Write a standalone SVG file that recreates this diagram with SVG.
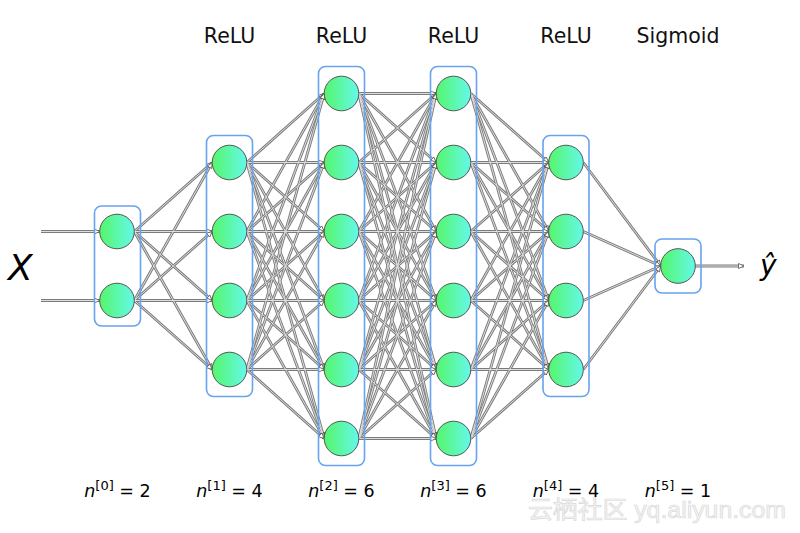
<svg xmlns="http://www.w3.org/2000/svg" xmlns:xlink="http://www.w3.org/1999/xlink" width="800" height="533" viewBox="0 0 800 533">
<style>
.outer{stroke:#7c7c7c;stroke-width:2.8;fill:none}
.inner{stroke:#dedede;stroke-width:1;fill:none}
.heads{stroke:none;fill:none;marker-end:url(#arr)}
.node{fill:url(#ng);stroke:#555;stroke-width:1}
.box{fill:none;stroke:#67a3ee;stroke-width:1.6}
.lbl{font-family:"DejaVu Sans","Noto Sans",sans-serif;fill:#000}
.top{font-size:20.5px;text-anchor:middle;fill:#111}
.bot{font-size:17.5px;text-anchor:middle}
.wm{font-family:"Liberation Sans","Noto Sans CJK SC",sans-serif;font-size:24px;fill:#f6f6f6;stroke:#d9d9d9;stroke-width:0.7}
</style>
<defs>
<linearGradient id="ng" x1="0" y1="0" x2="1" y2="0">
<stop offset="0" stop-color="#55f66a"/>
<stop offset="1" stop-color="#64f8ea"/>
</linearGradient>
<marker id="arr" markerUnits="userSpaceOnUse" markerWidth="8" markerHeight="8" refX="6" refY="3" orient="auto">
<path d="M0.5,0.5 L6,3 L0.5,5.5 z" fill="#fff" stroke="#555" stroke-width="0.8"/>
</marker>
</defs>
<rect width="800" height="533" fill="#fff"/>
<g class="outer">
<g id="connectors">
<line x1="41" y1="231.5" x2="99.7" y2="231.5"/>
<line x1="41" y1="300.5" x2="99.7" y2="300.5"/>
<line x1="134.3" y1="231.5" x2="212.2" y2="162.5"/>
<line x1="134.3" y1="231.5" x2="212.2" y2="231.5"/>
<line x1="134.3" y1="231.5" x2="212.2" y2="300.5"/>
<line x1="134.3" y1="231.5" x2="212.2" y2="369.5"/>
<line x1="134.3" y1="300.5" x2="212.2" y2="162.5"/>
<line x1="134.3" y1="300.5" x2="212.2" y2="231.5"/>
<line x1="134.3" y1="300.5" x2="212.2" y2="300.5"/>
<line x1="134.3" y1="300.5" x2="212.2" y2="369.5"/>
<line x1="246.8" y1="162.5" x2="324.2" y2="93.5"/>
<line x1="246.8" y1="162.5" x2="324.2" y2="162.5"/>
<line x1="246.8" y1="162.5" x2="324.2" y2="231.5"/>
<line x1="246.8" y1="162.5" x2="324.2" y2="300.5"/>
<line x1="246.8" y1="162.5" x2="324.2" y2="369.5"/>
<line x1="246.8" y1="162.5" x2="324.2" y2="438.5"/>
<line x1="246.8" y1="231.5" x2="324.2" y2="93.5"/>
<line x1="246.8" y1="231.5" x2="324.2" y2="162.5"/>
<line x1="246.8" y1="231.5" x2="324.2" y2="231.5"/>
<line x1="246.8" y1="231.5" x2="324.2" y2="300.5"/>
<line x1="246.8" y1="231.5" x2="324.2" y2="369.5"/>
<line x1="246.8" y1="231.5" x2="324.2" y2="438.5"/>
<line x1="246.8" y1="300.5" x2="324.2" y2="93.5"/>
<line x1="246.8" y1="300.5" x2="324.2" y2="162.5"/>
<line x1="246.8" y1="300.5" x2="324.2" y2="231.5"/>
<line x1="246.8" y1="300.5" x2="324.2" y2="300.5"/>
<line x1="246.8" y1="300.5" x2="324.2" y2="369.5"/>
<line x1="246.8" y1="300.5" x2="324.2" y2="438.5"/>
<line x1="246.8" y1="369.5" x2="324.2" y2="93.5"/>
<line x1="246.8" y1="369.5" x2="324.2" y2="162.5"/>
<line x1="246.8" y1="369.5" x2="324.2" y2="231.5"/>
<line x1="246.8" y1="369.5" x2="324.2" y2="300.5"/>
<line x1="246.8" y1="369.5" x2="324.2" y2="369.5"/>
<line x1="246.8" y1="369.5" x2="324.2" y2="438.5"/>
<line x1="358.8" y1="93.5" x2="436.2" y2="93.5"/>
<line x1="358.8" y1="93.5" x2="436.2" y2="162.5"/>
<line x1="358.8" y1="93.5" x2="436.2" y2="231.5"/>
<line x1="358.8" y1="93.5" x2="436.2" y2="300.5"/>
<line x1="358.8" y1="93.5" x2="436.2" y2="369.5"/>
<line x1="358.8" y1="93.5" x2="436.2" y2="438.5"/>
<line x1="358.8" y1="162.5" x2="436.2" y2="93.5"/>
<line x1="358.8" y1="162.5" x2="436.2" y2="162.5"/>
<line x1="358.8" y1="162.5" x2="436.2" y2="231.5"/>
<line x1="358.8" y1="162.5" x2="436.2" y2="300.5"/>
<line x1="358.8" y1="162.5" x2="436.2" y2="369.5"/>
<line x1="358.8" y1="162.5" x2="436.2" y2="438.5"/>
<line x1="358.8" y1="231.5" x2="436.2" y2="93.5"/>
<line x1="358.8" y1="231.5" x2="436.2" y2="162.5"/>
<line x1="358.8" y1="231.5" x2="436.2" y2="231.5"/>
<line x1="358.8" y1="231.5" x2="436.2" y2="300.5"/>
<line x1="358.8" y1="231.5" x2="436.2" y2="369.5"/>
<line x1="358.8" y1="231.5" x2="436.2" y2="438.5"/>
<line x1="358.8" y1="300.5" x2="436.2" y2="93.5"/>
<line x1="358.8" y1="300.5" x2="436.2" y2="162.5"/>
<line x1="358.8" y1="300.5" x2="436.2" y2="231.5"/>
<line x1="358.8" y1="300.5" x2="436.2" y2="300.5"/>
<line x1="358.8" y1="300.5" x2="436.2" y2="369.5"/>
<line x1="358.8" y1="300.5" x2="436.2" y2="438.5"/>
<line x1="358.8" y1="369.5" x2="436.2" y2="93.5"/>
<line x1="358.8" y1="369.5" x2="436.2" y2="162.5"/>
<line x1="358.8" y1="369.5" x2="436.2" y2="231.5"/>
<line x1="358.8" y1="369.5" x2="436.2" y2="300.5"/>
<line x1="358.8" y1="369.5" x2="436.2" y2="369.5"/>
<line x1="358.8" y1="369.5" x2="436.2" y2="438.5"/>
<line x1="358.8" y1="438.5" x2="436.2" y2="93.5"/>
<line x1="358.8" y1="438.5" x2="436.2" y2="162.5"/>
<line x1="358.8" y1="438.5" x2="436.2" y2="231.5"/>
<line x1="358.8" y1="438.5" x2="436.2" y2="300.5"/>
<line x1="358.8" y1="438.5" x2="436.2" y2="369.5"/>
<line x1="358.8" y1="438.5" x2="436.2" y2="438.5"/>
<line x1="470.8" y1="93.5" x2="548.7" y2="162.5"/>
<line x1="470.8" y1="93.5" x2="548.7" y2="231.5"/>
<line x1="470.8" y1="93.5" x2="548.7" y2="300.5"/>
<line x1="470.8" y1="93.5" x2="548.7" y2="369.5"/>
<line x1="470.8" y1="162.5" x2="548.7" y2="162.5"/>
<line x1="470.8" y1="162.5" x2="548.7" y2="231.5"/>
<line x1="470.8" y1="162.5" x2="548.7" y2="300.5"/>
<line x1="470.8" y1="162.5" x2="548.7" y2="369.5"/>
<line x1="470.8" y1="231.5" x2="548.7" y2="162.5"/>
<line x1="470.8" y1="231.5" x2="548.7" y2="231.5"/>
<line x1="470.8" y1="231.5" x2="548.7" y2="300.5"/>
<line x1="470.8" y1="231.5" x2="548.7" y2="369.5"/>
<line x1="470.8" y1="300.5" x2="548.7" y2="162.5"/>
<line x1="470.8" y1="300.5" x2="548.7" y2="231.5"/>
<line x1="470.8" y1="300.5" x2="548.7" y2="300.5"/>
<line x1="470.8" y1="300.5" x2="548.7" y2="369.5"/>
<line x1="470.8" y1="369.5" x2="548.7" y2="162.5"/>
<line x1="470.8" y1="369.5" x2="548.7" y2="231.5"/>
<line x1="470.8" y1="369.5" x2="548.7" y2="300.5"/>
<line x1="470.8" y1="369.5" x2="548.7" y2="369.5"/>
<line x1="470.8" y1="438.5" x2="548.7" y2="162.5"/>
<line x1="470.8" y1="438.5" x2="548.7" y2="231.5"/>
<line x1="470.8" y1="438.5" x2="548.7" y2="300.5"/>
<line x1="470.8" y1="438.5" x2="548.7" y2="369.5"/>
<line x1="583.3" y1="162.5" x2="660.7" y2="266"/>
<line x1="583.3" y1="231.5" x2="660.7" y2="266"/>
<line x1="583.3" y1="300.5" x2="660.7" y2="266"/>
<line x1="583.3" y1="369.5" x2="660.7" y2="266"/>
<line x1="695.3" y1="266" x2="744" y2="266"/>
</g>
</g>
<use xlink:href="#connectors" href="#connectors" class="inner"/>
<use xlink:href="#connectors" href="#connectors" class="heads"/>
<g id="layer0">
<rect class="box" x="94.5" y="206" width="46" height="120" rx="7"/>
<circle class="node" cx="117" cy="231.5" r="17.3"/>
<circle class="node" cx="117" cy="300.5" r="17.3"/>
</g>
<g id="layer1">
<rect class="box" x="206.5" y="135.5" width="46" height="261" rx="7"/>
<circle class="node" cx="229.5" cy="162.5" r="17.3"/>
<circle class="node" cx="229.5" cy="231.5" r="17.3"/>
<circle class="node" cx="229.5" cy="300.5" r="17.3"/>
<circle class="node" cx="229.5" cy="369.5" r="17.3"/>
</g>
<g id="layer2">
<rect class="box" x="318.5" y="66.5" width="46" height="399" rx="7"/>
<circle class="node" cx="341.5" cy="93.5" r="17.3"/>
<circle class="node" cx="341.5" cy="162.5" r="17.3"/>
<circle class="node" cx="341.5" cy="231.5" r="17.3"/>
<circle class="node" cx="341.5" cy="300.5" r="17.3"/>
<circle class="node" cx="341.5" cy="369.5" r="17.3"/>
<circle class="node" cx="341.5" cy="438.5" r="17.3"/>
</g>
<g id="layer3">
<rect class="box" x="430.5" y="66.5" width="46" height="399" rx="7"/>
<circle class="node" cx="453.5" cy="93.5" r="17.3"/>
<circle class="node" cx="453.5" cy="162.5" r="17.3"/>
<circle class="node" cx="453.5" cy="231.5" r="17.3"/>
<circle class="node" cx="453.5" cy="300.5" r="17.3"/>
<circle class="node" cx="453.5" cy="369.5" r="17.3"/>
<circle class="node" cx="453.5" cy="438.5" r="17.3"/>
</g>
<g id="layer4">
<rect class="box" x="543" y="135.5" width="46" height="261" rx="7"/>
<circle class="node" cx="566" cy="162.5" r="17.3"/>
<circle class="node" cx="566" cy="231.5" r="17.3"/>
<circle class="node" cx="566" cy="300.5" r="17.3"/>
<circle class="node" cx="566" cy="369.5" r="17.3"/>
</g>
<g id="layer5">
<rect class="box" x="655" y="239" width="46" height="54" rx="7"/>
<circle class="node" cx="678" cy="266" r="17.3"/>
</g>
<g id="labels">
<text class="wm" x="528" y="518" textLength="258" lengthAdjust="spacingAndGlyphs">云栖社区 yq.aliyun.com</text>
<text class="lbl" x="8" y="280" font-size="36" font-style="italic">X</text>
<text class="lbl" x="760" y="275" font-size="28" font-style="italic">ŷ</text>
<text class="lbl top" x="229.5" y="43">ReLU</text>
<text class="lbl top" x="341.5" y="43">ReLU</text>
<text class="lbl top" x="453.5" y="43">ReLU</text>
<text class="lbl top" x="566" y="43">ReLU</text>
<text class="lbl top" x="678" y="43">Sigmoid</text>
<text class="lbl bot" x="117.5" y="497"><tspan font-style="italic">n</tspan><tspan font-size="13" dy="-7">[0]</tspan><tspan dy="7"> = 2</tspan></text>
<text class="lbl bot" x="229.5" y="497"><tspan font-style="italic">n</tspan><tspan font-size="13" dy="-7">[1]</tspan><tspan dy="7"> = 4</tspan></text>
<text class="lbl bot" x="341.5" y="497"><tspan font-style="italic">n</tspan><tspan font-size="13" dy="-7">[2]</tspan><tspan dy="7"> = 6</tspan></text>
<text class="lbl bot" x="453.5" y="497"><tspan font-style="italic">n</tspan><tspan font-size="13" dy="-7">[3]</tspan><tspan dy="7"> = 6</tspan></text>
<text class="lbl bot" x="566" y="497"><tspan font-style="italic">n</tspan><tspan font-size="13" dy="-7">[4]</tspan><tspan dy="7"> = 4</tspan></text>
<text class="lbl bot" x="678" y="497"><tspan font-style="italic">n</tspan><tspan font-size="13" dy="-7">[5]</tspan><tspan dy="7"> = 1</tspan></text>
</g>
</svg>
